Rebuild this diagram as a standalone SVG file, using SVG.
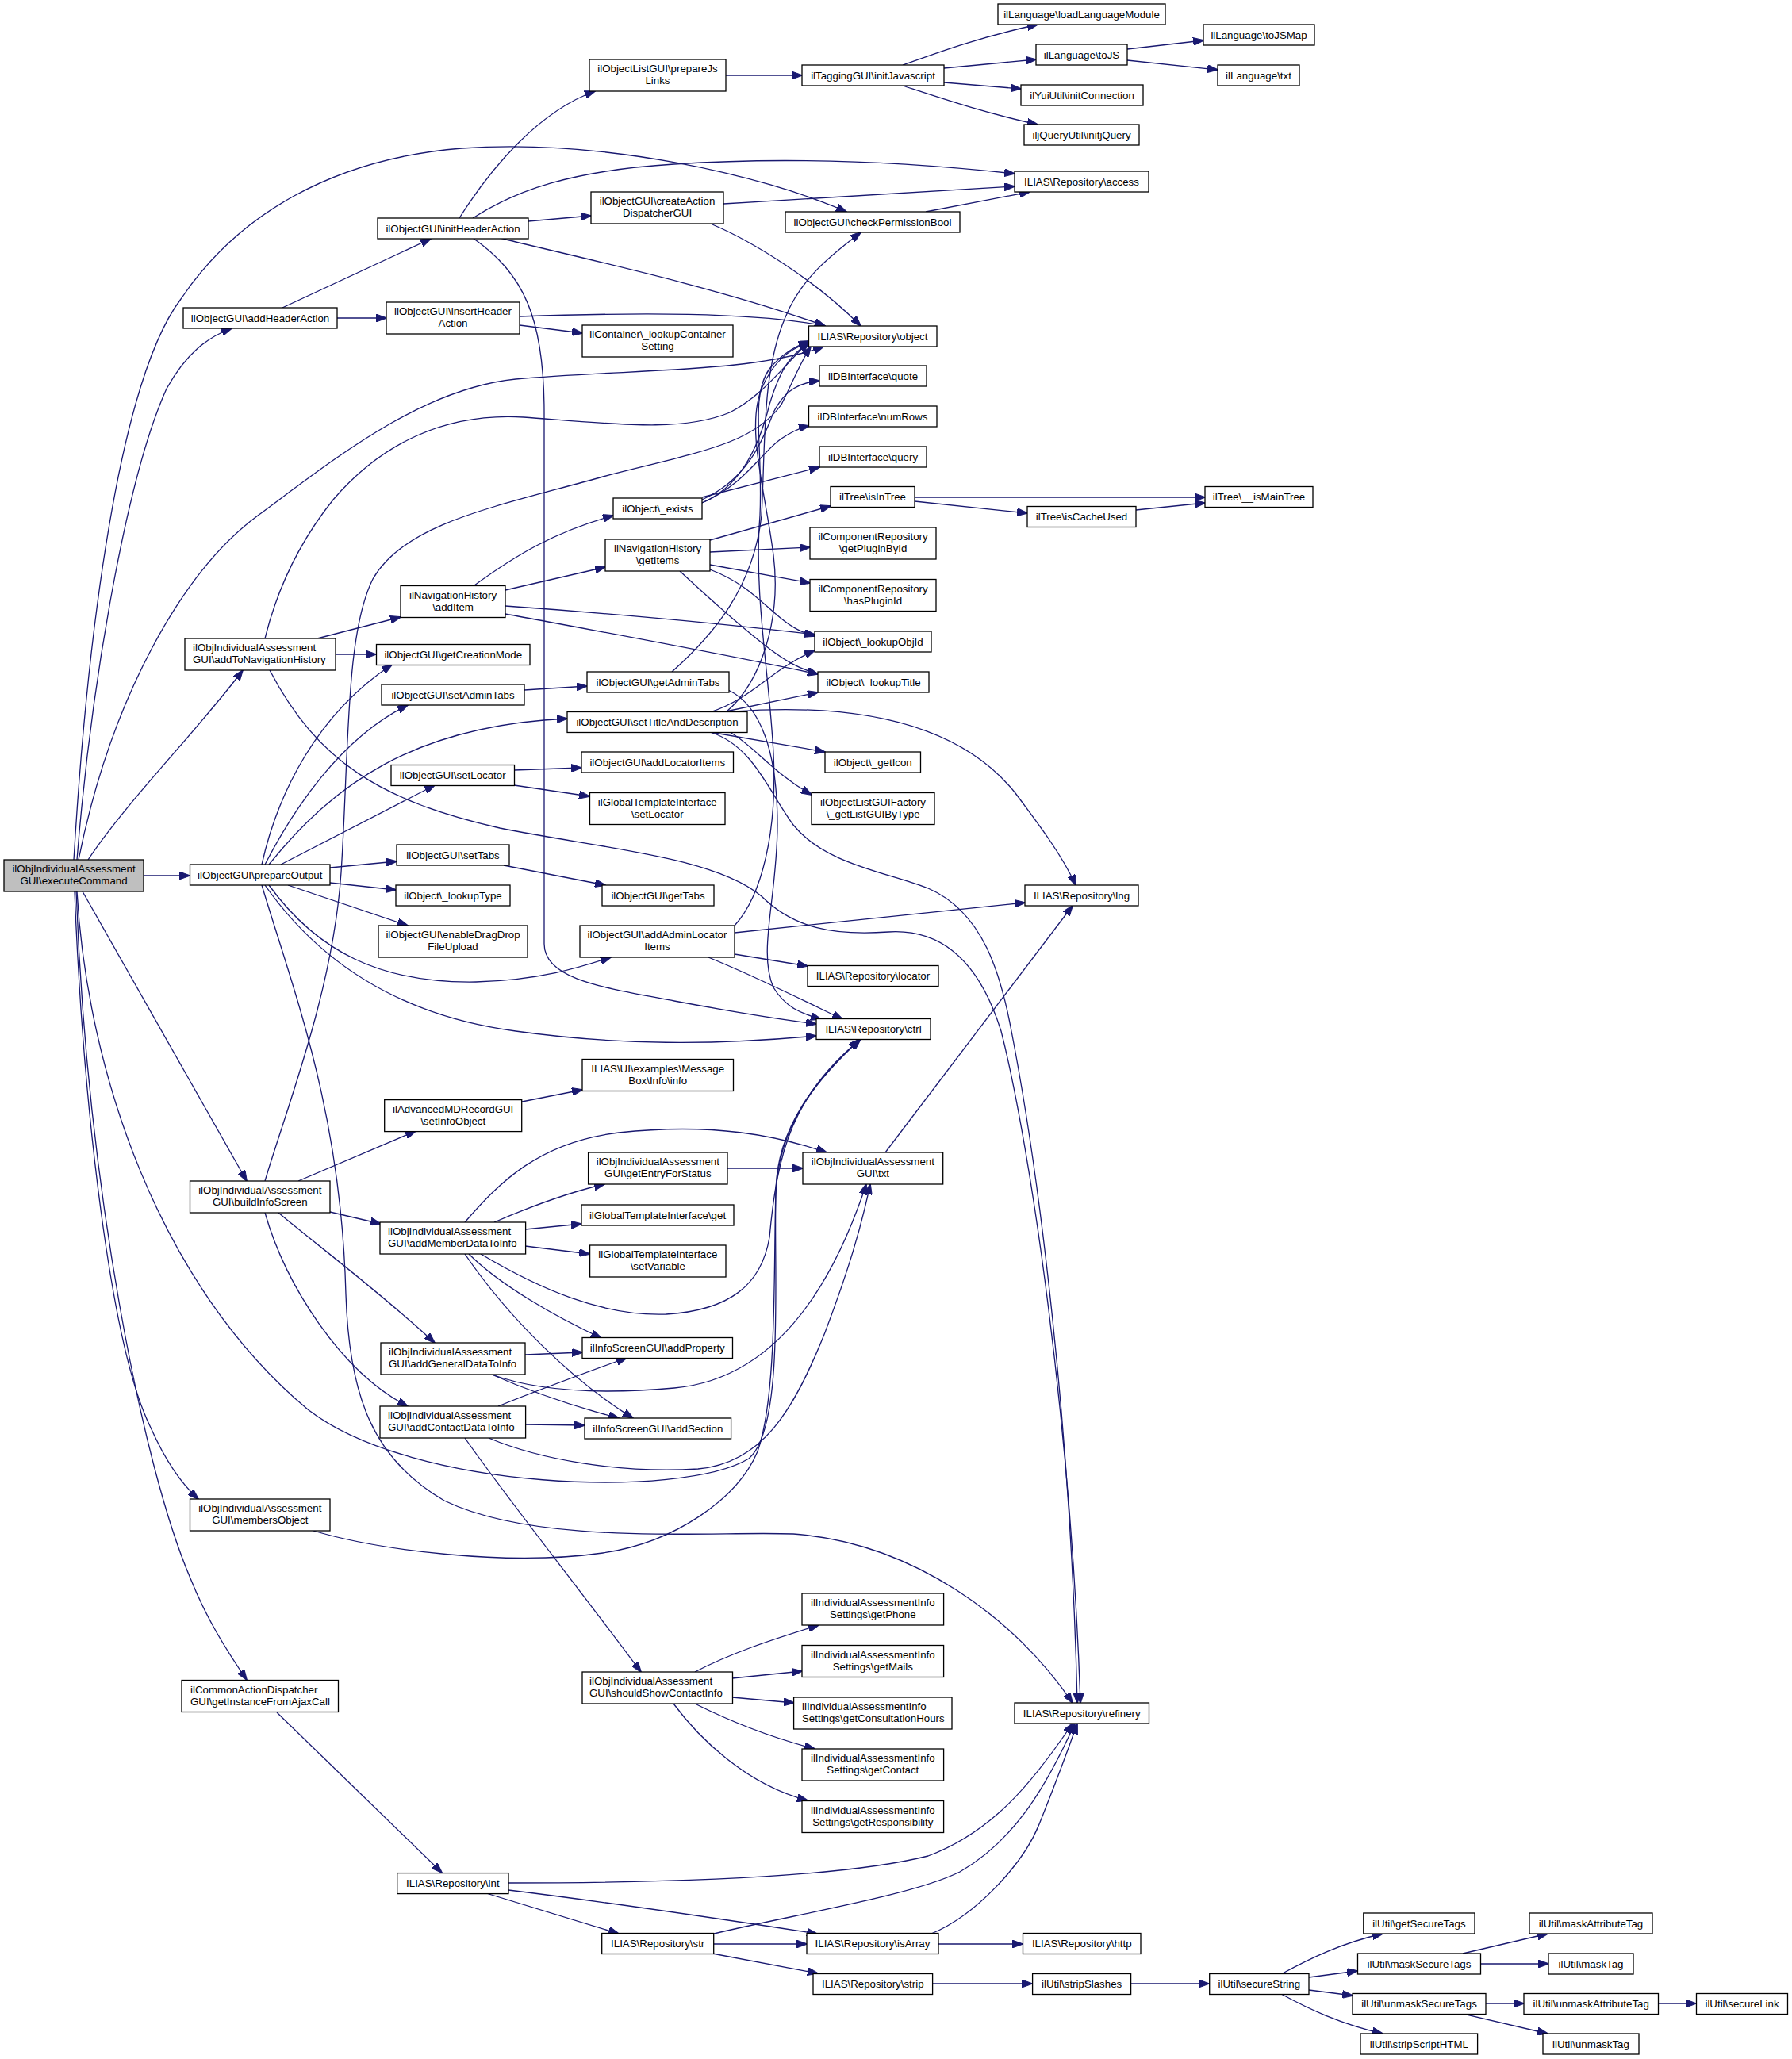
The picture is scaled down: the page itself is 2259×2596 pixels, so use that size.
<svg xmlns="http://www.w3.org/2000/svg" width="2259" height="2596" viewBox="0 0 2259 2596">
<style>
.node rect{fill:#fff;stroke:#000;stroke-width:1.3}
.root rect{fill:#bfbfbf}
text{font-family:"Liberation Sans",Arial,sans-serif;font-size:13.3px;fill:#000;text-anchor:middle}
text.l{text-anchor:start}
#edges path{fill:none;stroke:#191970;stroke-width:1.3;marker-end:url(#arr)}
</style>
<defs>
<marker id="arr" viewBox="0 0 14 10" refX="13" refY="5" markerWidth="14" markerHeight="10" markerUnits="userSpaceOnUse" orient="auto"><path d="M0,0 L14,5 L0,10 z" fill="#191970" stroke="#191970" stroke-width="1"/></marker>
</defs>
<rect width="2259" height="2596" fill="#fff"/>
<g id="edges">
<path d="M97,1084 C115,860 160,600 210,490 C235,445 262,425 292,414"/>
<path d="M93,1084 C110,800 150,480 228,377 C300,270 420,200 582,187 C760,175 960,220 1067,267"/>
<path d="M99,1084 C140,880 230,720 325,650 C420,580 530,490 650,478 C800,465 950,470 1038,437"/>
<path d="M111,1084 C160,1010 250,920 306,845"/>
<path d="M181,1104 L239,1104"/>
<path d="M104,1124 L311,1489"/>
<path d="M97,1124 C110,1350 200,1620 388,1777 C520,1880 860,1890 944,1839 C990,1800 975,1600 978,1507 C980,1420 1030,1360 1085,1310"/>
<path d="M94,1124 C105,1400 140,1700 190,1800 C210,1845 230,1872 250,1890"/>
<path d="M96,1124 C110,1500 180,1850 240,1990 C260,2040 285,2080 311,2118"/>
<path d="M356,388 L543,301"/>
<path d="M425,401 L487,401"/>
<path d="M579,275 C620,210 680,140 750,115"/>
<path d="M596,275 C650,240 720,215 850,207 C1000,197 1150,205 1279,219"/>
<path d="M666,279 L745,272"/>
<path d="M630,300 C700,318 900,360 1040,411"/>
<path d="M596,300 C660,345 686,400 686,520 L686,1190 C686,1235 760,1245 850,1262 C920,1275 980,1285 1029,1291"/>
<path d="M655,399 C800,394 950,393 1040,411"/>
<path d="M655,410 L734,420"/>
<path d="M915,95 L1011,95"/>
<path d="M1138,82 C1180,67 1230,48 1308,31"/>
<path d="M1190,86 L1306,75"/>
<path d="M1190,104 L1287,112"/>
<path d="M1138,108 C1190,125 1240,142 1308,157"/>
<path d="M1421,62 L1517,51"/>
<path d="M1421,76 L1535,88"/>
<path d="M912,257 L1279,235"/>
<path d="M898,283 C950,305 1030,355 1085,411"/>
<path d="M1167,267 L1298,242"/>
<path d="M400,805 L505,778"/>
<path d="M423,825 L474,825"/>
<path d="M334,805 C350,740 380,680 420,630 C480,560 560,520 660,526 C780,535 860,545 920,520 C960,500 990,460 1020,430"/>
<path d="M340,845 C400,960 480,1010 630,1044 C760,1070 900,1080 960,1130 C1000,1170 1050,1180 1120,1175 C1200,1170 1240,1230 1262,1300 C1300,1450 1350,1800 1362,2147"/>
<path d="M598,738 C650,700 700,670 773,650"/>
<path d="M637,744 L763,715"/>
<path d="M637,764 C750,772 900,785 1027,800"/>
<path d="M637,774 C750,795 900,822 1031,850"/>
<path d="M885,634 C930,615 955,570 970,510 C985,460 1000,445 1020,432"/>
<path d="M885,630 C940,605 960,560 975,520 C990,490 1010,482 1033,480"/>
<path d="M885,634 C940,610 960,570 985,553 C1000,543 1010,539 1020,537"/>
<path d="M885,627 L1033,589"/>
<path d="M895,681 L1047,638"/>
<path d="M895,696 L1021,690"/>
<path d="M895,712 L1021,735"/>
<path d="M895,718 C940,735 960,760 985,780 C1000,792 1010,797 1027,802"/>
<path d="M857,720 C900,760 940,795 970,818 C990,833 1005,842 1031,850"/>
<path d="M1153,627 L1519,627"/>
<path d="M1153,632 L1295,647"/>
<path d="M1432,643 L1519,634"/>
<path d="M330,1090 C350,1000 400,900 494,838"/>
<path d="M334,1090 C370,1020 430,930 514,889"/>
<path d="M339,1090 C420,990 520,915 715,906"/>
<path d="M354,1090 L548,990"/>
<path d="M416,1094 L500,1086"/>
<path d="M416,1113 L499,1122"/>
<path d="M363,1116 L514,1167"/>
<path d="M339,1116 C400,1200 480,1240 600,1238 C680,1236 730,1220 770,1207"/>
<path d="M334,1116 C400,1210 500,1280 650,1300 C780,1318 900,1318 1029,1306"/>
<path d="M330,1116 C370,1250 430,1400 436,1632 C440,1760 470,1840 560,1892 C680,1950 900,1930 1000,1934 C1150,1945 1280,2040 1352,2147"/>
<path d="M661,870 L740,865"/>
<path d="M847,847 C900,800 950,740 960,650 C965,560 960,470 990,400 C1010,350 1050,320 1085,293"/>
<path d="M918,870 C960,890 980,950 980,1040 C980,1130 955,1200 975,1245 C990,1270 1010,1278 1035,1285"/>
<path d="M895,898 C950,880 970,845 1027,820"/>
<path d="M910,898 L1031,873"/>
<path d="M925,897 C1050,888 1200,900 1280,1000 C1310,1040 1340,1080 1356,1116"/>
<path d="M895,923 L1040,948"/>
<path d="M920,923 C950,940 975,975 1023,1002"/>
<path d="M895,923 C950,940 970,1000 1000,1040 C1040,1090 1120,1100 1170,1120 C1240,1150 1262,1230 1275,1300 C1310,1480 1350,1800 1358,2147"/>
<path d="M915,898 C960,860 985,780 975,700 C965,620 940,540 960,490 C975,455 995,440 1020,432"/>
<path d="M648,971 L733,968"/>
<path d="M648,990 L743,1004"/>
<path d="M635,1091 L763,1116"/>
<path d="M926,1176 L1292,1138"/>
<path d="M926,1203 L1018,1218"/>
<path d="M893,1207 C950,1230 1010,1260 1062,1285"/>
<path d="M926,1167 C960,1130 980,1050 975,950 C970,850 950,750 958,650 C962,560 945,500 970,465 C985,447 1000,438 1020,430"/>
<path d="M334,1489 C360,1400 420,1250 430,1100 C440,950 435,800 470,730 C510,660 620,640 760,601 C880,570 950,560 985,510 C1000,480 1010,455 1022,437"/>
<path d="M376,1489 L524,1426"/>
<path d="M416,1528 L480,1543"/>
<path d="M351,1529 C400,1570 480,1630 548,1693"/>
<path d="M334,1529 C360,1620 430,1730 514,1773"/>
<path d="M658,1389 L734,1374"/>
<path d="M623,1541 C660,1525 710,1505 762,1493"/>
<path d="M662,1550 L733,1543"/>
<path d="M662,1571 L743,1581"/>
<path d="M586,1541 C630,1490 680,1440 780,1428 C900,1415 980,1432 1042,1453"/>
<path d="M591,1581 C630,1620 700,1660 758,1687"/>
<path d="M586,1581 C640,1660 720,1740 798,1788"/>
<path d="M606,1581 C680,1625 760,1660 840,1657 C920,1652 960,1620 970,1560 C980,1450 1000,1380 1084,1311"/>
<path d="M917,1473 L1012,1473"/>
<path d="M1116,1453 L1352,1142"/>
<path d="M662,1708 L734,1705"/>
<path d="M620,1733 C670,1755 730,1775 780,1788"/>
<path d="M620,1733 C680,1755 760,1758 850,1750 C960,1740 1040,1650 1092,1493"/>
<path d="M628,1773 C680,1752 740,1730 790,1712"/>
<path d="M662,1796 L737,1797"/>
<path d="M616,1813 C680,1840 780,1858 880,1852 C960,1845 1000,1780 1040,1680 C1070,1600 1085,1550 1097,1493"/>
<path d="M586,1813 C640,1890 720,1990 808,2108"/>
<path d="M395,1930 C480,1955 640,1975 760,1958 C850,1945 930,1890 955,1830 C980,1760 975,1600 978,1500 C980,1420 1030,1360 1083,1311"/>
<path d="M876,2108 C920,2085 970,2068 1032,2049"/>
<path d="M923,2116 L1011,2107"/>
<path d="M923,2140 L1001,2147"/>
<path d="M876,2148 C920,2170 970,2190 1027,2205"/>
<path d="M849,2148 C880,2190 940,2250 1018,2270"/>
<path d="M349,2159 L557,2361"/>
<path d="M641,2374 C800,2374 1050,2370 1170,2340 C1250,2310 1300,2250 1352,2173"/>
<path d="M641,2383 C780,2400 900,2418 1030,2438"/>
<path d="M613,2387 L780,2438"/>
<path d="M900,2438 C1000,2414 1150,2390 1210,2360 C1280,2320 1320,2250 1355,2173"/>
<path d="M900,2451 L1017,2451"/>
<path d="M898,2463 L1031,2488"/>
<path d="M1174,2438 C1230,2415 1290,2350 1310,2300 C1330,2250 1345,2210 1358,2173"/>
<path d="M1183,2451 L1289,2451"/>
<path d="M1176,2501 L1301,2501"/>
<path d="M1426,2501 L1524,2501"/>
<path d="M1615,2489 C1650,2470 1690,2450 1743,2438"/>
<path d="M1650,2493 L1711,2485"/>
<path d="M1650,2509 L1705,2516"/>
<path d="M1615,2514 C1650,2533 1690,2552 1743,2564"/>
<path d="M1844,2463 L1951,2438"/>
<path d="M1866,2476 L1952,2476"/>
<path d="M1873,2526 L1921,2526"/>
<path d="M1844,2539 L1951,2564"/>
<path d="M2090,2526 L2138,2526"/>
</g>
<g id="n1" class="node root"><rect x="5" y="1084" width="176" height="40"/><text x="93" y="1100">ilObjIndividualAssessment<tspan x="93" dy="15">GUI\executeCommand</tspan></text></g>
<g id="n2" class="node"><rect x="231" y="388" width="194" height="26"/><text x="328" y="405.5">ilObjectGUI\addHeaderAction</text></g>
<g id="n3" class="node"><rect x="476" y="275" width="190" height="26"/><text x="571" y="292.5">ilObjectGUI\initHeaderAction</text></g>
<g id="n4" class="node"><rect x="487" y="381" width="168" height="40"/><text x="571" y="397">ilObjectGUI\insertHeader<tspan x="571" dy="15">Action</tspan></text></g>
<g id="n5" class="node"><rect x="743" y="75" width="172" height="40"/><text x="829" y="91">ilObjectListGUI\prepareJs<tspan x="829" dy="15">Links</tspan></text></g>
<g id="n6" class="node"><rect x="745" y="242" width="167" height="40"/><text x="828.5" y="258">ilObjectGUI\createAction<tspan x="828.5" dy="15">DispatcherGUI</tspan></text></g>
<g id="n7" class="node"><rect x="734" y="410" width="190" height="40"/><text x="829" y="426">ilContainer\_lookupContainer<tspan x="829" dy="15">Setting</tspan></text></g>
<g id="n8" class="node"><rect x="1011" y="82" width="179" height="26"/><text x="1100.5" y="99.5">ilTaggingGUI\initJavascript</text></g>
<g id="n9" class="node"><rect x="1258" y="5" width="211" height="26"/><text x="1363.5" y="22.5">ilLanguage\loadLanguageModule</text></g>
<g id="n10" class="node"><rect x="1306" y="56" width="115" height="26"/><text x="1363.5" y="73.5">ilLanguage\toJS</text></g>
<g id="n11" class="node"><rect x="1287" y="107" width="154" height="26"/><text x="1364" y="124.5">ilYuiUtil\initConnection</text></g>
<g id="n12" class="node"><rect x="1291" y="157" width="145" height="26"/><text x="1363.5" y="174.5">iljQueryUtil\initjQuery</text></g>
<g id="n13" class="node"><rect x="1517" y="31" width="140" height="26"/><text x="1587" y="48.5">ilLanguage\toJSMap</text></g>
<g id="n14" class="node"><rect x="1535" y="82" width="103" height="26"/><text x="1586.5" y="99.5">ilLanguage\txt</text></g>
<g id="n15" class="node"><rect x="1279" y="216" width="169" height="26"/><text x="1363.5" y="233.5">ILIAS\Repository\access</text></g>
<g id="n16" class="node"><rect x="990" y="267" width="220" height="26"/><text x="1100" y="284.5">ilObjectGUI\checkPermissionBool</text></g>
<g id="n17" class="node"><rect x="1019.5" y="411" width="161.5" height="26"/><text x="1100" y="428.5">ILIAS\Repository\object</text></g>
<g id="n18" class="node"><rect x="1033" y="461" width="135" height="26"/><text x="1100.5" y="478.5">ilDBInterface\quote</text></g>
<g id="n19" class="node"><rect x="1019.5" y="512" width="161.5" height="26"/><text x="1100" y="529.5">ilDBInterface\numRows</text></g>
<g id="n20" class="node"><rect x="1033" y="563" width="135" height="26"/><text x="1100.5" y="580.5">ilDBInterface\query</text></g>
<g id="n21" class="node"><rect x="1047" y="613.5" width="106" height="26"/><text x="1100" y="631">ilTree\isInTree</text></g>
<g id="n22" class="node"><rect x="1519" y="613.5" width="136" height="26"/><text x="1587" y="631">ilTree\__isMainTree</text></g>
<g id="n23" class="node"><rect x="1295" y="638.5" width="137" height="26"/><text x="1363.5" y="656">ilTree\isCacheUsed</text></g>
<g id="n24" class="node"><rect x="773" y="628" width="112" height="26"/><text x="829" y="645.5">ilObject\_exists</text></g>
<g id="n25" class="node"><rect x="763" y="680" width="132" height="40"/><text x="829" y="696">ilNavigationHistory<tspan x="829" dy="15">\getItems</tspan></text></g>
<g id="n26" class="node"><rect x="1021" y="665" width="159" height="40"/><text x="1100.5" y="681">ilComponentRepository<tspan x="1100.5" dy="15">\getPluginById</tspan></text></g>
<g id="n27" class="node"><rect x="1021" y="730.5" width="159" height="40"/><text x="1100.5" y="746.5">ilComponentRepository<tspan x="1100.5" dy="15">\hasPluginId</tspan></text></g>
<g id="n28" class="node"><rect x="505" y="738.5" width="132" height="40"/><text x="571" y="754.5">ilNavigationHistory<tspan x="571" dy="15">\addItem</tspan></text></g>
<g id="n29" class="node"><rect x="1027" y="796" width="147" height="26"/><text x="1100.5" y="813.5">ilObject\_lookupObjId</text></g>
<g id="n30" class="node"><rect x="233" y="805" width="190" height="40"/><text class="l" x="243" y="821">ilObjIndividualAssessment<tspan x="243" dy="15">GUI\addToNavigationHistory</tspan></text></g>
<g id="n31" class="node"><rect x="474.5" y="812.5" width="193.5" height="26"/><text x="571.25" y="830">ilObjectGUI\getCreationMode</text></g>
<g id="n32" class="node"><rect x="740" y="847" width="179" height="26"/><text x="829.5" y="864.5">ilObjectGUI\getAdminTabs</text></g>
<g id="n33" class="node"><rect x="1031" y="847" width="140" height="26"/><text x="1101" y="864.5">ilObject\_lookupTitle</text></g>
<g id="n34" class="node"><rect x="481" y="863" width="180" height="26"/><text x="571" y="880.5">ilObjectGUI\setAdminTabs</text></g>
<g id="n35" class="node"><rect x="715" y="897.5" width="227" height="26"/><text x="828.5" y="915">ilObjectGUI\setTitleAndDescription</text></g>
<g id="n36" class="node"><rect x="1040" y="948" width="120.5" height="26"/><text x="1100.25" y="965.5">ilObject\_getIcon</text></g>
<g id="n37" class="node"><rect x="733" y="948" width="191.5" height="26"/><text x="828.75" y="965.5">ilObjectGUI\addLocatorItems</text></g>
<g id="n38" class="node"><rect x="493" y="964.5" width="155.5" height="26"/><text x="570.75" y="982">ilObjectGUI\setLocator</text></g>
<g id="n39" class="node"><rect x="743.5" y="999.5" width="170.5" height="40"/><text x="828.75" y="1015.5">ilGlobalTemplateInterface<tspan x="828.75" dy="15">\setLocator</tspan></text></g>
<g id="n40" class="node"><rect x="1023" y="999.5" width="155" height="40"/><text x="1100.5" y="1015.5">ilObjectListGUIFactory<tspan x="1100.5" dy="15">\_getListGUIByType</tspan></text></g>
<g id="n41" class="node"><rect x="500" y="1065" width="142" height="26"/><text x="571" y="1082.5">ilObjectGUI\setTabs</text></g>
<g id="n42" class="node"><rect x="239.5" y="1090" width="176.5" height="26"/><text x="327.75" y="1107.5">ilObjectGUI\prepareOutput</text></g>
<g id="n43" class="node"><rect x="499" y="1116" width="144" height="26"/><text x="571" y="1133.5">ilObject\_lookupType</text></g>
<g id="n44" class="node"><rect x="759" y="1116" width="141" height="26"/><text x="829.5" y="1133.5">ilObjectGUI\getTabs</text></g>
<g id="n45" class="node"><rect x="1292" y="1116" width="143" height="26"/><text x="1363.5" y="1133.5">ILIAS\Repository\lng</text></g>
<g id="n46" class="node"><rect x="477" y="1167" width="188" height="40"/><text x="571" y="1183">ilObjectGUI\enableDragDrop<tspan x="571" dy="15">FileUpload</tspan></text></g>
<g id="n47" class="node"><rect x="731" y="1167" width="195" height="40"/><text x="828.5" y="1183">ilObjectGUI\addAdminLocator<tspan x="828.5" dy="15">Items</tspan></text></g>
<g id="n48" class="node"><rect x="1018" y="1217.5" width="165" height="26"/><text x="1100.5" y="1235">ILIAS\Repository\locator</text></g>
<g id="n49" class="node"><rect x="1029" y="1284.5" width="144" height="26"/><text x="1101" y="1302">ILIAS\Repository\ctrl</text></g>
<g id="n50" class="node"><rect x="734" y="1335.5" width="190.5" height="40"/><text x="829.25" y="1351.5">ILIAS\UI\examples\Message<tspan x="829.25" dy="15">Box\Info\info</tspan></text></g>
<g id="n51" class="node"><rect x="484.7" y="1386.6" width="173" height="40"/><text x="571.2" y="1402.6">ilAdvancedMDRecordGUI<tspan x="571.2" dy="15">\setInfoObject</tspan></text></g>
<g id="n52" class="node"><rect x="741.6" y="1453" width="175.4" height="40"/><text x="829.3" y="1469">ilObjIndividualAssessment<tspan x="829.3" dy="15">GUI\getEntryForStatus</tspan></text></g>
<g id="n53" class="node"><rect x="1012" y="1453" width="176.7" height="40"/><text x="1100.35" y="1469">ilObjIndividualAssessment<tspan x="1100.35" dy="15">GUI\txt</tspan></text></g>
<g id="n54" class="node"><rect x="239.5" y="1489" width="176.5" height="40"/><text x="327.75" y="1505">ilObjIndividualAssessment<tspan x="327.75" dy="15">GUI\buildInfoScreen</tspan></text></g>
<g id="n55" class="node"><rect x="733" y="1519" width="192" height="26"/><text x="829" y="1536.5">ilGlobalTemplateInterface\get</text></g>
<g id="n56" class="node"><rect x="479" y="1541" width="183.6" height="40"/><text class="l" x="489" y="1557">ilObjIndividualAssessment<tspan x="489" dy="15">GUI\addMemberDataToInfo</tspan></text></g>
<g id="n57" class="node"><rect x="743.6" y="1570" width="171.4" height="40"/><text x="829.3" y="1586">ilGlobalTemplateInterface<tspan x="829.3" dy="15">\setVariable</tspan></text></g>
<g id="n58" class="node"><rect x="734" y="1686.5" width="189.5" height="26"/><text x="828.75" y="1704">ilInfoScreenGUI\addProperty</text></g>
<g id="n59" class="node"><rect x="480" y="1693" width="182" height="40"/><text class="l" x="490" y="1709">ilObjIndividualAssessment<tspan x="490" dy="15">GUI\addGeneralDataToInfo</tspan></text></g>
<g id="n60" class="node"><rect x="479" y="1773" width="183.6" height="40"/><text class="l" x="489" y="1789">ilObjIndividualAssessment<tspan x="489" dy="15">GUI\addContactDataToInfo</tspan></text></g>
<g id="n61" class="node"><rect x="737" y="1788" width="184.6" height="26"/><text x="829.3" y="1805.5">ilInfoScreenGUI\addSection</text></g>
<g id="n62" class="node"><rect x="239.5" y="1890" width="176.5" height="40"/><text x="327.75" y="1906">ilObjIndividualAssessment<tspan x="327.75" dy="15">GUI\membersObject</tspan></text></g>
<g id="n63" class="node"><rect x="1011" y="2009" width="178.6" height="40"/><text x="1100.3" y="2025">ilIndividualAssessmentInfo<tspan x="1100.3" dy="15">Settings\getPhone</tspan></text></g>
<g id="n64" class="node"><rect x="1011" y="2074.5" width="178.6" height="40"/><text x="1100.3" y="2090.5">ilIndividualAssessmentInfo<tspan x="1100.3" dy="15">Settings\getMails</tspan></text></g>
<g id="n65" class="node"><rect x="734" y="2108" width="189.5" height="40"/><text class="l" x="743" y="2124">ilObjIndividualAssessment<tspan x="743" dy="15">GUI\shouldShowContactInfo</tspan></text></g>
<g id="n66" class="node"><rect x="229" y="2118.5" width="197.5" height="40"/><text class="l" x="240" y="2134.5">ilCommonActionDispatcher<tspan x="240" dy="15">GUI\getInstanceFromAjaxCall</tspan></text></g>
<g id="n67" class="node"><rect x="1000.6" y="2140" width="199.4" height="40"/><text class="l" x="1011" y="2156">ilIndividualAssessmentInfo<tspan x="1011" dy="15">Settings\getConsultationHours</tspan></text></g>
<g id="n68" class="node"><rect x="1279" y="2147" width="169.5" height="26"/><text x="1363.75" y="2164.5">ILIAS\Repository\refinery</text></g>
<g id="n69" class="node"><rect x="1011" y="2205" width="178.6" height="40"/><text x="1100.3" y="2221">ilIndividualAssessmentInfo<tspan x="1100.3" dy="15">Settings\getContact</tspan></text></g>
<g id="n70" class="node"><rect x="1011" y="2270.5" width="178.6" height="40"/><text x="1100.3" y="2286.5">ilIndividualAssessmentInfo<tspan x="1100.3" dy="15">Settings\getResponsibility</tspan></text></g>
<g id="n71" class="node"><rect x="500.7" y="2361.6" width="140.3" height="26"/><text x="570.85" y="2379">ILIAS\Repository\int</text></g>
<g id="n72" class="node"><rect x="758.7" y="2437.5" width="141" height="26"/><text x="829.2" y="2455">ILIAS\Repository\str</text></g>
<g id="n73" class="node"><rect x="1017" y="2437.5" width="166" height="26"/><text x="1100" y="2455">ILIAS\Repository\isArray</text></g>
<g id="n74" class="node"><rect x="1289.5" y="2437.5" width="148.5" height="26"/><text x="1363.75" y="2455">ILIAS\Repository\http</text></g>
<g id="n75" class="node"><rect x="1025" y="2488.5" width="150.6" height="26"/><text x="1100.3" y="2506">ILIAS\Repository\strip</text></g>
<g id="n76" class="node"><rect x="1301.6" y="2488.5" width="124" height="26"/><text x="1363.6" y="2506">ilUtil\stripSlashes</text></g>
<g id="n77" class="node"><rect x="1524.7" y="2488.5" width="125.3" height="26"/><text x="1587.35" y="2506">ilUtil\secureString</text></g>
<g id="n78" class="node"><rect x="1718.8" y="2412" width="140.2" height="26"/><text x="1788.9" y="2429.5">ilUtil\getSecureTags</text></g>
<g id="n79" class="node"><rect x="1711.5" y="2463" width="155" height="26"/><text x="1789" y="2480.5">ilUtil\maskSecureTags</text></g>
<g id="n80" class="node"><rect x="1705" y="2513.5" width="168" height="26"/><text x="1789" y="2531">ilUtil\unmaskSecureTags</text></g>
<g id="n81" class="node"><rect x="1715" y="2564" width="147.6" height="26"/><text x="1788.8" y="2581.5">ilUtil\stripScriptHTML</text></g>
<g id="n82" class="node"><rect x="1928" y="2412" width="155" height="26"/><text x="2005.5" y="2429.5">ilUtil\maskAttributeTag</text></g>
<g id="n83" class="node"><rect x="1952" y="2463" width="107" height="26"/><text x="2005.5" y="2480.5">ilUtil\maskTag</text></g>
<g id="n84" class="node"><rect x="1921" y="2513.5" width="169.5" height="26"/><text x="2005.75" y="2531">ilUtil\unmaskAttributeTag</text></g>
<g id="n85" class="node"><rect x="2138.5" y="2513.5" width="115" height="26"/><text x="2196" y="2531">ilUtil\secureLink</text></g>
<g id="n86" class="node"><rect x="1945" y="2564" width="121" height="26"/><text x="2005.5" y="2581.5">ilUtil\unmaskTag</text></g>
</svg>
